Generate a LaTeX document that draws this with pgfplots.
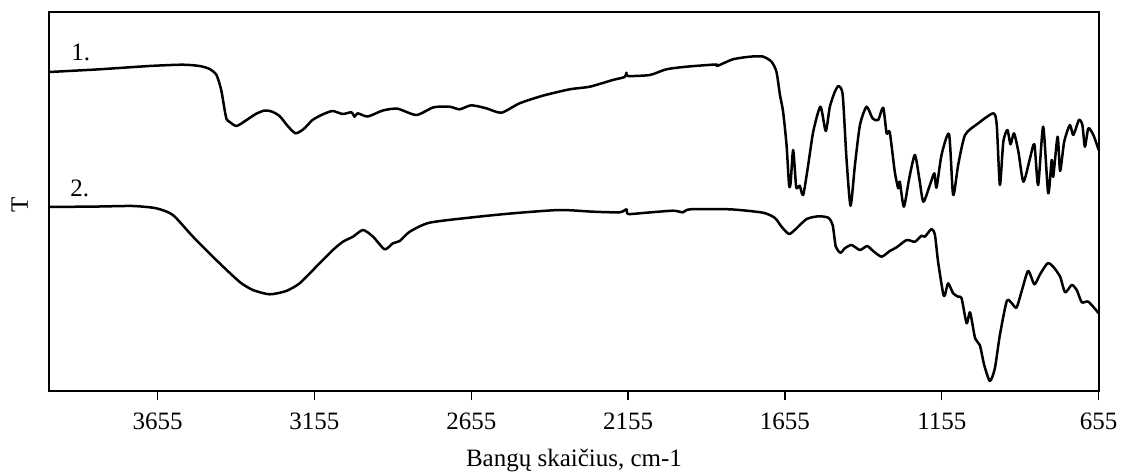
\documentclass[border=0pt]{standalone}
\usepackage{fontspec}
\setmainfont{Liberation Serif}
\usepackage{pgfplots}
\pgfplotsset{compat=1.18}

% IR spectra: transmittance (arbitrary units) vs wavenumber, cm-1
\begin{document}
\begin{tikzpicture}
\fontsize{10}{12}\selectfont
\begin{axis}[
  name=ax,
  scale only axis,
  width=419.76pt, height=151.72pt,
  x dir=reverse,
  xmin=655, xmax=4000,
  ymin=0, ymax=379.3,
  axis line style={line width=0.8pt},
  xtick={655,1155,1655,2155,2655,3155,3655},
  ytick=\empty,
  tick align=outside,
  xtick pos=bottom,
  major tick length=3.5pt,
  tick style={line width=0.5pt, black},
  /pgf/number format/1000 sep={},
  /pgf/number format/assume math mode=true,
  xticklabel style={font=\fontsize{10}{12}\selectfont, yshift=-1.6pt},
  xlabel={Bangų skaičius, cm-1},
  ylabel={T},
  every axis x label/.style={at={(axis description cs:0.5,0)}, anchor=base, yshift=-29.9pt, font=\fontsize{10}{12}\selectfont},
  every axis y label/.style={at={(axis description cs:0,0.5)}, anchor=center, rotate=90, yshift=11.8pt, xshift=-1.4pt, font=\fontsize{10}{12}\selectfont},
  clip=false,
]
% spectrum 1
\addplot[black, line width=1pt, line join=round, smooth, tension=0.4] coordinates {
(4000,319.3) (3840,322) (3681,325.3) (3575,326.6) (3521,325.3) (3489,322.3)
(3467,316.3) (3452,301.3) (3441,281.3) (3435,272.3) (3425,269.3) (3403,265.3)
(3371,271.3) (3342,277.3) (3314,280.8) (3291,279.8) (3266,275.3) (3240,265.3)
(3215,258) (3189,262.3) (3161,271.3) (3129,276.8) (3097,280.3) (3065,277.3)
(3037,279) (3027,274.6) (3017,278) (2985,274.8) (2937,280.8) (2890,282.6)
(2830,276.3) (2775,284) (2724,284.6) (2692,282) (2655,286) (2607,283)
(2559,278.6) (2501,288) (2427,295.6) (2341,302) (2277,304.6) (2204,311.3)
(2166,314.3) (2160,318.6) (2156,315.3) (2086,316.3) (2033,322) (1969,324.6)
(1875,326.8) (1871,325.3) (1821,332) (1767,334.6) (1726,334.8) (1698,329.6)
(1682,319.3) (1671,296.3) (1661,279.6) (1650,246.3) (1642,206.3) (1637,208.3)
(1629,241.3) (1620,206.3) (1616,203) (1608,205.6) (1597,196.3) (1581,226.3)
(1565,259.6) (1542,284.6) (1525,260.3) (1512,284.6) (1496,299.6) (1484,305.3)
(1471,296.3) (1459,233) (1446,185.6) (1432,226.3) (1416,266.3) (1395,284.6)
(1376,273) (1358,271.3) (1342,283.6) (1331,258) (1321,259) (1305,219.6)
(1294,203) (1289,209.6) (1276,184.6) (1259,213) (1241,236.3) (1227,213)
(1214,189.6) (1193,206.3) (1179,218) (1172,203.6) (1156,236.3) (1132,257)
(1119,196.3) (1103,226.3) (1081,256.3) (1039,268) (991,278) (980,266.3)
(970,206.3) (959,249.6) (946,261.3) (936,247) (925,258) (911,239.6)
(895,209.6) (874,233) (860,247) (848,206.3) (832,264.6) (816,198)
(805,231.3) (800,214.6) (786,254.6) (778,220.3) (765,249.6) (747,266.3)
(736,256.3) (718,271.3) (707,266.3) (699,244.6) (688,263) (672,256.3)
(655,241.3)
};
% spectrum 2
\addplot[black, line width=1pt, line join=round, smooth, tension=0.4] coordinates {
(4000,184.3) (3840,184.8) (3734,185.3) (3659,183) (3606,176.3) (3542,154.6)
(3468,131.3) (3394,109.6) (3351,101.3) (3298,97) (3245,100.3) (3202,108)
(3149,124.6) (3096,141.3) (3064,149.6) (3032,154.6) (3000,161.3) (2968,154.6)
(2931,142) (2905,148) (2883,150.3) (2851,159.6) (2788,168.6) (2650,174)
(2522,178) (2373,181.3) (2267,179.6) (2182,179) (2160,182) (2155,177.3)
(2097,178.6) (2012,180.6) (1980,179) (1958,182) (1831,182) (1725,178.6)
(1687,173.3) (1666,164.6) (1642,157.3) (1618,163) (1586,172.3) (1549,175)
(1517,173.6) (1503,166.3) (1493,144.6) (1478,138.6) (1464,143) (1443,146.3)
(1416,141.3) (1393,145.3) (1374,140.3) (1347,134.6) (1321,140.3) (1299,144)
(1267,151.3) (1241,149.6) (1220,155.6) (1209,154.6) (1188,162.3) (1177,156.3)
(1167,129.6) (1151,98) (1145,96.3) (1135,108) (1119,98) (1103,94.6)
(1092,93) (1076,68) (1065,79) (1049,53) (1034,46.3) (1020,26.3)
(1002,10.3) (986,23) (970,56.3) (948,90.3) (932,88) (917,83.6)
(901,99.6) (880,120.3) (860,107) (842,117) (818,128) (800,124.6)
(778,114.6) (762,99) (741,106.3) (725,101.3) (709,89) (688,89.6)
(655,78)
};
\node[anchor=base] at (axis cs:3900,330.6) {1.};
\node[anchor=base] at (axis cs:3903,194.6) {2.};
\end{axis}
\pgfresetboundingbox
\path[use as bounding box] ([xshift=-19.72pt,yshift=-33.08pt]ax.south west) rectangle ([xshift=8.92pt,yshift=4.8pt]ax.north east);
\end{tikzpicture}
\end{document}
